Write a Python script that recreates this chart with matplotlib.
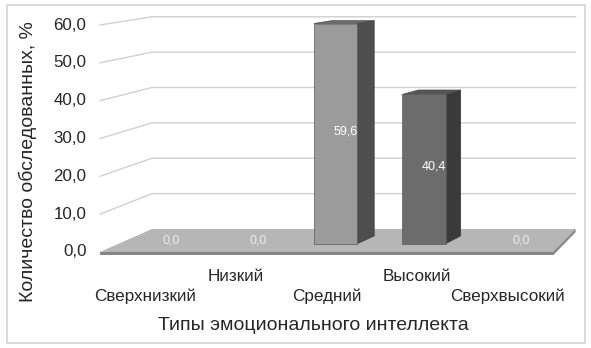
import matplotlib
matplotlib.use("Agg")
import matplotlib.pyplot as plt
from matplotlib.patches import Polygon, Rectangle

categories = ["Сверхнизкий", "Низкий", "Средний", "Высокий", "Сверхвысокий"]
values = [0.0, 0.0, 59.6, 40.4, 0.0]
yticks = [0, 10, 20, 30, 40, 50, 60]
front_colors = ["#9b9b9b", "#9b9b9b", "#9b9b9b", "#6c6c6c", "#9b9b9b"]
side_colors = ["#4e4e4e", "#4e4e4e", "#4e4e4e", "#3a3a3a", "#4e4e4e"]
top_colors = ["#6a6a6a", "#6a6a6a", "#6a6a6a", "#555555", "#6a6a6a"]

plt.rcParams["font.family"] = ["Liberation Sans", "DejaVu Sans"]


def proj(c, v, d):
    # simple perspective: depth d in [0, 1] from front plane to back wall
    s = 1 - 0.065 * d
    return (c * s + 0.574 * d, v * s + 6.08 * d)


def fmt(v):
    return f"{v:.1f}".replace(".", ",")


fig = plt.figure(figsize=(5.91, 3.48), dpi=100)
ax = fig.add_axes([0, 0, 1, 1])
ax.set_xlim(-1.104, 5.419)
ax.set_ylim(-25.38, 66.61)
ax.axis("off")

# outer frame
fig.patches.append(Rectangle((7 / 591, 5 / 348), 578 / 591, 338 / 348,
                             transform=fig.transFigure, fill=False,
                             edgecolor="#d4d4d4", lw=1.2))

n = len(categories)
grid_c = "#d0d0d0"
for t in yticks[1:]:
    x0, y0 = proj(0, t, 0)
    x1, y1 = proj(0, t, 1)
    x2, y2 = proj(n, t, 1)
    ax.plot([x0, x1, x2], [y0, y1, y2], color=grid_c, lw=1, zorder=1)

for t in yticks:
    x, y = proj(0, t, 0)
    ax.text(x - 0.15, y, fmt(t), ha="right", va="center", fontsize=12.2,
            color="#262626")

# floor with thickness
th = 0.9
floor = [proj(0, 0, 0), proj(n, 0, 0), proj(n, 0, 1), proj(0, 0, 1)]
ax.add_patch(Polygon(floor, closed=True, facecolor="#b6b6b6",
                     edgecolor="none", zorder=2))
edge = [proj(0, 0, 0), proj(n, 0, 0), proj(n, -th, 0), proj(0, -th, 0)]
ax.add_patch(Polygon(edge, closed=True, facecolor="#858585",
                     edgecolor="none", zorder=2))
side_edge = [proj(n, 0, 0), proj(n, 0, 1), proj(n, -th, 1), proj(n, -th, 0)]
ax.add_patch(Polygon(side_edge, closed=True, facecolor="#858585",
                     edgecolor="none", zorder=2))

d0, d1 = 0.36, 0.70
hw = 0.245


def bproj(c, v, d):
    # bars are seen a bit more from the side
    return proj(c + 0.16 * (d - d0), v, d)


for i, v in enumerate(values):
    if v > 0:
        l, r = i + 0.45 - hw, i + 0.45 + hw
        front = [bproj(l, 0, d0), bproj(r, 0, d0), bproj(r, v, d0), bproj(l, v, d0)]
        side = [bproj(r, 0, d0), bproj(r, 0, d1), bproj(r, v, d1), bproj(r, v, d0)]
        top = [bproj(l, v, d0), bproj(r, v, d0), bproj(r, v, d1), bproj(l, v, d1)]
        ax.add_patch(Polygon(side, closed=True, facecolor=side_colors[i],
                             edgecolor="#3a3a3a", lw=0.5, zorder=3))
        ax.add_patch(Polygon(top, closed=True, facecolor=top_colors[i],
                             edgecolor="#4a4a4a", lw=0.5, zorder=3))
        ax.add_patch(Polygon(front, closed=True, facecolor=front_colors[i],
                             edgecolor="#5a5a5a", lw=0.5, zorder=4))
        tx, ty = proj(i + 0.5, v / 2, 0.52)
        ax.text(tx, ty, fmt(v), ha="center", va="center", fontsize=9,
                color="white", zorder=5)
    else:
        tx, ty = proj(i + 0.5, 0, 0.52)
        ax.text(tx, ty, fmt(v), ha="center", va="center", fontsize=9,
                color="#ececec", zorder=5)

# staggered category labels
for i, name in enumerate(categories):
    yy = -6.6 if i % 2 else -11.6
    ax.text(i + 0.5, yy, name, ha="center", va="center", fontsize=12.3,
            color="#262626")

fig.text(313 / 591, 1 - 325 / 348, "Типы эмоционального интеллекта",
         ha="center", va="center", fontsize=14, color="#262626")
fig.text(28 / 591, 1 - 162 / 348, "Количество обследованных, %",
         ha="center", va="center", rotation=90, fontsize=14, color="#262626")

fig.savefig("out.png", dpi=100)
plt.close(fig)
